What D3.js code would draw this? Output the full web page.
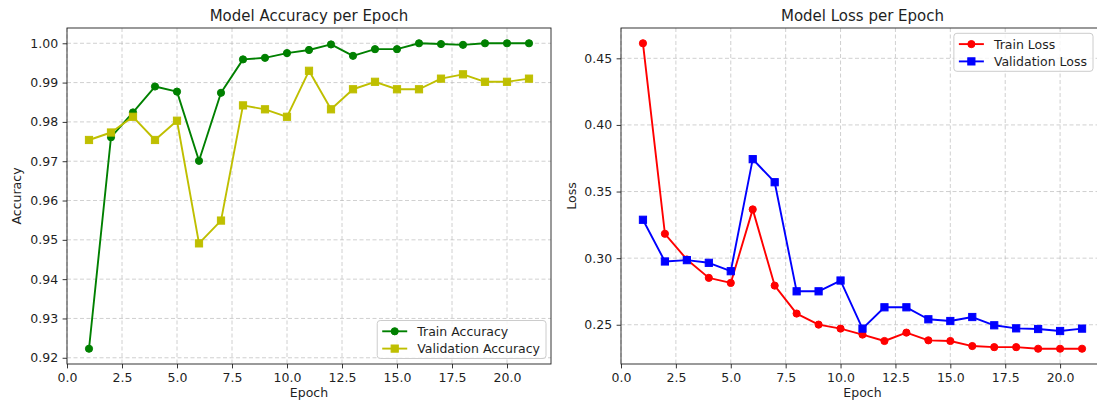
<!DOCTYPE html>
<html>
<head>
<meta charset="utf-8">
<script src="https://cdn.jsdelivr.net/npm/d3@7"></script>
<style>
  body { margin: 0; background: white; }
  text { font-family: "DejaVu Sans", sans-serif; fill: #1f1f1f; }
</style>
</head>
<body>
<div id="d3-container"></div>
<script>
// data
const epochs = [1, 2, 3, 4, 5, 6, 7, 8, 9, 10, 11, 12, 13, 14, 15, 16, 17, 18, 19, 20, 21];

const trainAcc = [0.9223, 0.9761, 0.9824, 0.9890, 0.9877, 0.9701, 0.9874, 0.9959, 0.9963, 0.9975, 0.9983,
                  0.9997, 0.9968, 0.9985, 0.9985, 1.0000, 0.9998, 0.9996, 1.0000, 1.0000, 1.0000];
const valAcc = [0.9754, 0.9773, 0.9813, 0.9754, 0.9803, 0.9491, 0.9549, 0.9842, 0.9832, 0.9813, 0.9930,
                0.9832, 0.9883, 0.9902, 0.9883, 0.9883, 0.9910, 0.9921, 0.9902, 0.9902, 0.9910];

const trainLoss = [0.4613, 0.3183, 0.2990, 0.2852, 0.2814, 0.3366, 0.2794, 0.2584, 0.2501, 0.2471, 0.2426,
                   0.2378, 0.2441, 0.2383, 0.2378, 0.2340, 0.2332, 0.2332, 0.2320, 0.2320, 0.2320];
const valLoss = [0.3288, 0.2975, 0.2985, 0.2965, 0.2902, 0.3743, 0.3570, 0.2751, 0.2751, 0.2832, 0.2471,
                 0.2631, 0.2631, 0.2541, 0.2528, 0.2558, 0.2496, 0.2473, 0.2468, 0.2453, 0.2471];

const xTicks = [0, 2.5, 5, 7.5, 10, 12.5, 15, 17.5, 20];
const accTicks = [0.92, 0.93, 0.94, 0.95, 0.96, 0.97, 0.98, 0.99, 1.00];
const lossTicks = [0.25, 0.30, 0.35, 0.40, 0.45];

let width = 1097, height = 401;
let fs = 12.5;

let svg = d3.select('#d3-container')
  .append('svg')
  .attr('width', width)
  .attr('height', height)
  .style('background-color', 'white');

// matplotlib style 5% padding
function padExtent(vals) {
  let [lo, hi] = d3.extent(vals);
  let p = (hi - lo) * 0.05;
  return [lo - p, hi + p];
}

function drawPanel(p) {
  let g = svg.append('g');

  const x = d3.scaleLinear()
    .domain(padExtent(epochs))
    .range([p.left, p.right]);
  const y = d3.scaleLinear()
    .domain(padExtent(p.series[0].values.concat(p.series[1].values)))
    .range([p.bottom, p.top]);

  // grid
  g.append('g').selectAll('line.gx')
    .data(xTicks)
    .join('line')
      .attr('x1', d => x(d)).attr('x2', d => x(d))
      .attr('y1', p.top).attr('y2', p.bottom)
      .attr('stroke', '#b0b0b0').attr('stroke-opacity', 0.6)
      .attr('stroke-width', 1).attr('stroke-dasharray', '4,2.5');
  g.append('g').selectAll('line.gy')
    .data(p.yTicks)
    .join('line')
      .attr('x1', p.left).attr('x2', p.right)
      .attr('y1', d => y(d)).attr('y2', d => y(d))
      .attr('stroke', '#b0b0b0').attr('stroke-opacity', 0.6)
      .attr('stroke-width', 1).attr('stroke-dasharray', '4,2.5');

  // axes
  let xAxis = g.append('g')
    .attr('transform', `translate(0, ${p.bottom})`)
    .call(d3.axisBottom(x).tickValues(xTicks).tickFormat(d3.format('.1f'))
      .tickSize(4.4).tickPadding(4.4).tickSizeOuter(0));
  let yAxis = g.append('g')
    .attr('transform', `translate(${p.left}, 0)`)
    .call(d3.axisLeft(y).tickValues(p.yTicks).tickFormat(d3.format('.2f'))
      .tickSize(4.4).tickPadding(4.4).tickSizeOuter(0));
  [xAxis, yAxis].forEach(a => {
    a.select('.domain').remove();
    a.selectAll('line').attr('stroke', '#1f1f1f').attr('stroke-width', 0.9);
    a.selectAll('text').attr('font-size', fs).attr('fill', '#1f1f1f')
      .style('font-family', '"DejaVu Sans", sans-serif');
  });

  // series
  p.series.forEach(s => {
    let line = d3.line()
      .x((d, i) => x(epochs[i]))
      .y(d => y(d));
    g.append('path')
      .datum(s.values)
      .attr('d', line)
      .attr('fill', 'none')
      .attr('stroke', s.color)
      .attr('stroke-width', 1.9)
      .attr('stroke-linejoin', 'round');
    let m = g.append('g');
    s.values.forEach((v, i) => drawMarker(m, x(epochs[i]), y(v), s));
  });

  // frame
  g.append('rect')
    .attr('x', p.left).attr('y', p.top)
    .attr('width', p.right - p.left).attr('height', p.bottom - p.top)
    .attr('fill', 'none').attr('stroke', '#1f1f1f').attr('stroke-width', 0.9);

  // title + labels
  g.append('text')
    .attr('x', (p.left + p.right) / 2).attr('y', 21)
    .attr('text-anchor', 'middle').attr('font-size', 15)
    .text(p.title);
  g.append('text')
    .attr('x', (p.left + p.right) / 2).attr('y', 397)
    .attr('text-anchor', 'middle').attr('font-size', fs)
    .text('Epoch');
  g.append('text')
    .attr('transform', `translate(${p.ylabelX}, ${(p.top + p.bottom) / 2}) rotate(-90)`)
    .attr('text-anchor', 'middle').attr('dominant-baseline', 'central')
    .attr('font-size', fs)
    .text(p.ylabel);

  drawLegend(g, p.series, p.legend);
}

function drawMarker(g, cx, cy, s) {
  if (s.marker == 'circle') {
    g.append('circle')
      .attr('cx', cx).attr('cy', cy).attr('r', 3.6)
      .attr('fill', s.color).attr('stroke', s.color).attr('stroke-width', 1);
  } else {
    g.append('rect')
      .attr('x', cx - 3.6).attr('y', cy - 3.6)
      .attr('width', 7.2).attr('height', 7.2)
      .attr('fill', s.color).attr('stroke', s.color).attr('stroke-width', 1);
  }
}

function drawLegend(g, series, L) {
  let lg = g.append('g');
  let box = lg.append('rect');
  let rowGap = 17.3;
  let texts = [];
  series.forEach((s, i) => {
    let cy = L.top + 10.8 + i * rowGap;
    lg.append('line')
      .attr('x1', 0).attr('x2', 25)
      .attr('y1', cy).attr('y2', cy)
      .attr('stroke', s.color).attr('stroke-width', 1.9);
    drawMarker(lg, 12.5, cy, s);
    texts.push(lg.append('text')
      .attr('x', 35).attr('y', cy)
      .attr('dy', '0.36em')
      .attr('font-size', fs)
      .text(s.name));
  });
  let tw = d3.max(texts, t => t.node().getComputedTextLength());
  let w = 5 + 35 + tw + 6;
  let left = L.right - w;
  lg.selectAll('line, circle, rect:not(:first-child), text')
    .attr('transform', `translate(${left + 5}, 0)`);
  box.attr('x', left).attr('y', L.top)
    .attr('width', w).attr('height', 38)
    .attr('rx', 3)
    .attr('fill', 'white').attr('fill-opacity', 0.8)
    .attr('stroke', '#cccccc').attr('stroke-width', 1);
}

drawPanel({
  left: 67, right: 551, top: 28, bottom: 364,
  title: 'Model Accuracy per Epoch',
  ylabel: 'Accuracy', ylabelX: 16,
  yTicks: accTicks,
  series: [
    { name: 'Train Accuracy', values: trainAcc, color: '#008000', marker: 'circle' },
    { name: 'Validation Accuracy', values: valAcc, color: '#bfbf00', marker: 'square' }
  ],
  legend: { right: 546, top: 320.5 }
});

drawPanel({
  left: 621, right: 1104, top: 28, bottom: 364,
  title: 'Model Loss per Epoch',
  ylabel: 'Loss', ylabelX: 571,
  yTicks: lossTicks,
  series: [
    { name: 'Train Loss', values: trainLoss, color: '#ff0000', marker: 'circle' },
    { name: 'Validation Loss', values: valLoss, color: '#0000ff', marker: 'square' }
  ],
  legend: { right: 1093, top: 33.3 }
});
</script>
</body>
</html>
